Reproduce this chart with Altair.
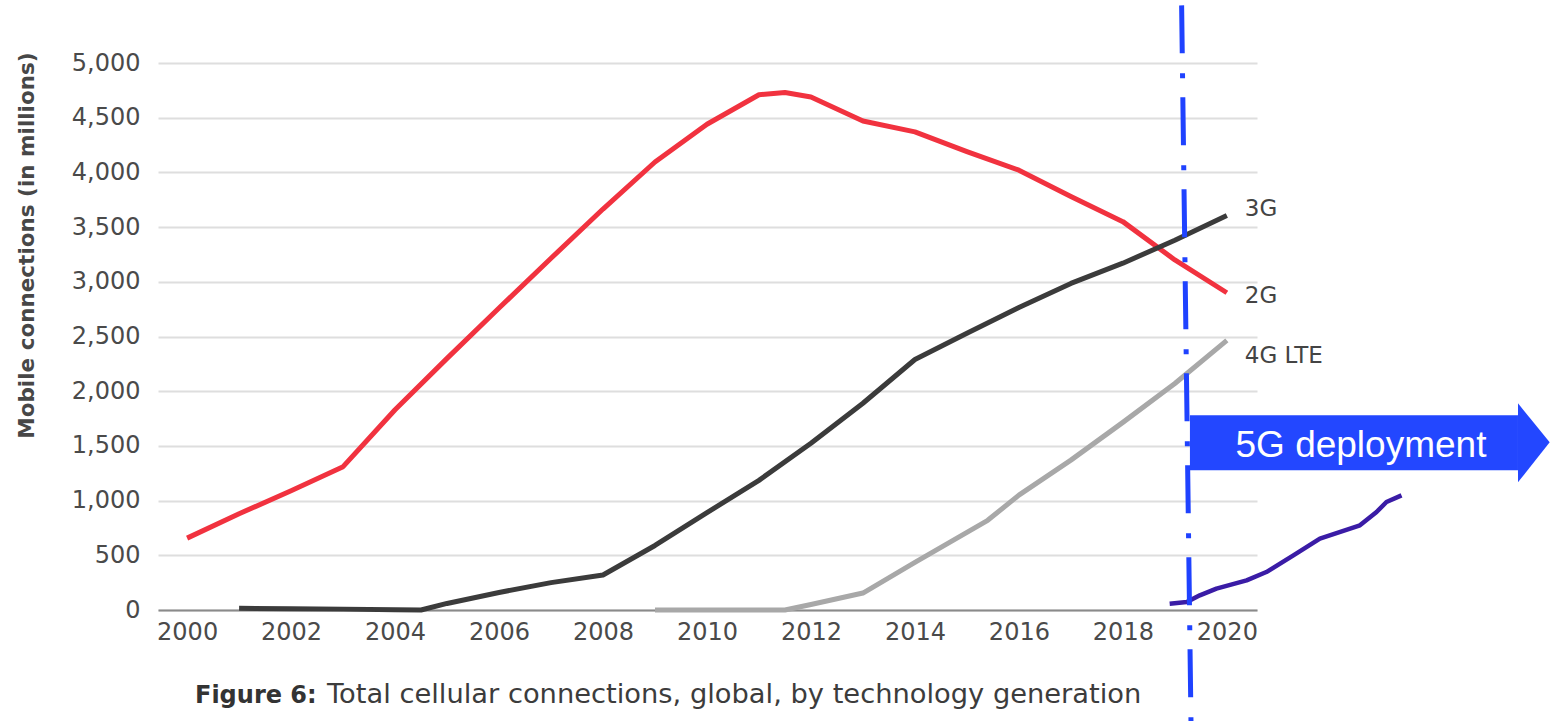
import altair as alt
import pandas as pd

# ---- data ----
years_2g = [2000, 2001, 2002, 2003, 2004, 2005, 2006, 2007, 2008, 2009, 2010, 2011,
            2011.5, 2012, 2013, 2014, 2015, 2016, 2017, 2018, 2019, 2020]
vals_2g = [657, 880, 1090, 1310, 1830, 2300, 2760, 3215, 3665, 4095, 4440, 4710,
           4730, 4690, 4470, 4370, 4190, 4020, 3780, 3550, 3200, 2900]

years_3g = [2001, 2002, 2003, 2004, 2004.5, 2005, 2006, 2007, 2008, 2009, 2010, 2011,
            2012, 2013, 2014, 2015, 2016, 2017, 2018, 2019, 2020]
vals_3g = [15, 12, 8, 3, 0, 60, 160, 250, 320, 590, 890, 1185,
           1525, 1890, 2290, 2530, 2765, 2985, 3170, 3380, 3605]

years_4g = [2009, 2010, 2011, 2011.5, 2012, 2013, 2014, 2015, 2015.4, 2016, 2017, 2018, 2019, 2020]
vals_4g = [0, 0, 0, 0, 50, 155, 435, 710, 820, 1050, 1370, 1715, 2070, 2465]

years_5g = [2018.90, 2019.23, 2019.48, 2019.80, 2020.38, 2020.76, 2021.28, 2021.79,
            2022.56, 2022.88, 2023.07, 2023.36]
vals_5g = [58, 73, 134, 196, 271, 347, 500, 653, 774, 896, 987, 1048]

series_names = ["2G", "3G", "4G LTE"]
series_colors = ["#f1323f", "#3b3b3b", "#a8a8a8"]
label_dy = {"2G": 10, "3G": 0, "4G LTE": 23}

y_ticks = list(range(0, 5001, 500))
x_ticks = list(range(2000, 2021, 2))

y_title = "Mobile connections (in millions)"
caption_bold = "Figure 6:"
caption_rest = "Total cellular connections, global, by technology generation"
banner_text = "5G deployment"

# 5G marker (vertical dash-dot line) and banner arrow, in data units
marker_years = [2019.13, 2019.31]
marker_vals = [5527, -1020]
banner_years = [2019.29, 2025.60]
banner_vals = [1780, 1277]
head_years = [2025.60, 2026.21]
head_top = [1889, 1533]
head_bot = [1167, 1533]
banner_text_pos = [2022.58, 1396]

FONT = "DejaVu Sans"

# ---- tables ----
rows = []
for name, ys, vs in [("2G", years_2g, vals_2g), ("3G", years_3g, vals_3g), ("4G LTE", years_4g, vals_4g)]:
    for y, v in zip(ys, vs):
        rows.append({"series": name, "year": y, "value": v})
lines_df = pd.DataFrame(rows)
g5_df = pd.DataFrame({"year": years_5g, "value": vals_5g})
ends_df = lines_df.groupby("series").tail(1)

x_scale = alt.Scale(domain=[1999.44, 2020.58], nice=False, zero=False)
y_scale = alt.Scale(domain=[0, 5000], nice=False)

x_axis = alt.Axis(values=x_ticks, format="d", title=None, grid=False, ticks=False,
                  domain=True, domainColor="#8a8a8a", domainWidth=2,
                  labelFont=FONT, labelFontSize=24, labelColor="#4a4a4a", labelPadding=10)
y_axis = alt.Axis(values=y_ticks, format=",.0f", grid=True, gridColor="#dedede", gridWidth=2,
                  domain=False, ticks=False, labelFont=FONT, labelFontSize=24,
                  labelColor="#4a4a4a", labelPadding=18,
                  title=y_title, titleFont=FONT, titleFontSize=21.5, titleFontWeight="bold",
                  titleColor="#474747", titleAngle=270, titleX=-131, titleY=182,
                  titleAlign="center", titleBaseline="middle")

X = alt.X("year:Q", scale=x_scale, axis=x_axis)
Y = alt.Y("value:Q", scale=y_scale, axis=y_axis)

lines = alt.Chart(lines_df).mark_line(strokeWidth=5, strokeJoin="round").encode(
    x=X, y=Y,
    color=alt.Color("series:N", scale=alt.Scale(domain=series_names, range=series_colors), legend=None),
    detail="series:N",
)

g5 = alt.Chart(g5_df).mark_line(strokeWidth=4.5, strokeJoin="round", color="#3a1ca6").encode(x=X, y=Y)

label_layers = []
for name in series_names:
    label_layers.append(
        alt.Chart(ends_df[ends_df["series"] == name]).mark_text(
            align="left", baseline="alphabetic", dx=18, dy=label_dy[name],
            font=FONT, fontSize=23, color="#444444"
        ).encode(x=X, y=Y, text="series:N")
    )

marker_df = pd.DataFrame({"year": [marker_years[0]], "year2": [marker_years[1]],
                          "value": [marker_vals[0]], "value2": [marker_vals[1]]})
marker = alt.Chart(marker_df).mark_rule(color="#1f42ff", strokeWidth=5,
                                        strokeDash=[48, 20, 5, 19]).encode(
    x=X, x2="year2:Q", y=Y, y2="value2:Q")

banner_df = pd.DataFrame({"year": [banner_years[0]], "year2": [banner_years[1]],
                          "value": [banner_vals[0]], "value2": [banner_vals[1]]})
banner = alt.Chart(banner_df).mark_rect(color="#2347ff").encode(
    x=X, x2="year2:Q", y=Y, y2="value2:Q")

head_df = pd.DataFrame({"year": head_years, "value": head_top, "value2": head_bot})
head = alt.Chart(head_df).mark_area(color="#2347ff", orient="vertical").encode(
    x=X, y=Y, y2="value2:Q")

btext_df = pd.DataFrame({"year": [banner_text_pos[0]], "value": [banner_text_pos[1]], "t": [banner_text]})
btext = alt.Chart(btext_df).mark_text(align="center", baseline="alphabetic",
                                      font="Liberation Sans", fontSize=37, color="white").encode(
    x=X, y=Y, text="t:N")

one = pd.DataFrame({"a": [0]})
cap1 = alt.Chart(one).mark_text(align="left", baseline="alphabetic", font=FONT, fontSize=24,
                                fontWeight="bold", color="#333333", text=caption_bold).encode(
    x=alt.value(37), y=alt.value(640))
cap2 = alt.Chart(one).mark_text(align="left", baseline="alphabetic", font=FONT, fontSize=27.3,
                                color="#3c3c3c", text=caption_rest).encode(
    x=alt.value(169), y=alt.value(640))

chart = alt.layer(lines, g5, *label_layers, marker, banner, head, btext, cap1, cap2).properties(
    width=1099, height=547,
    padding={"left": 158, "top": 63, "right": 293, "bottom": 111},
    autosize=alt.AutoSizeParams(type="none"),
    background="white",
).configure_view(stroke=None)

chart.save("out.html", embed_options={"renderer": "svg", "actions": False})
